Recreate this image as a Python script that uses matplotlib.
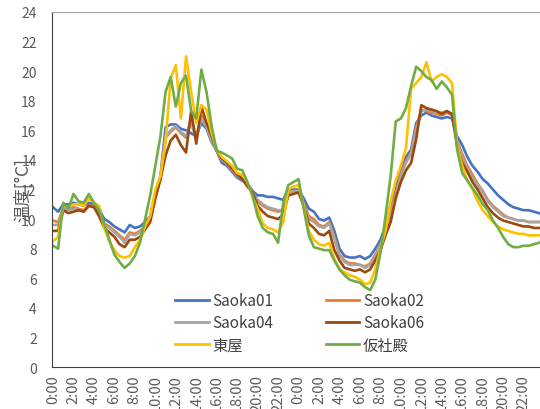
import numpy as np
import matplotlib
matplotlib.use('Agg')
import matplotlib.pyplot as plt

plt.rcParams['font.family'] = ['Noto Sans CJK JP', 'DejaVu Sans']

# half-hourly readings, 0:00 day 1 .. 23:30 day 2
hours = np.arange(96) * 0.5

saoka01 = [10.8, 10.5, 11.0, 11.0, 11.1, 11.0, 10.9, 11.1, 11.0, 10.7, 10.0, 9.8,
           9.5, 9.3, 9.1, 9.6, 9.4, 9.5, 9.8, 10.2, 11.8, 12.9, 16.2, 16.4,
           16.4, 16.1, 16.0, 15.8, 15.6, 16.5, 16.1, 15.2, 14.6, 13.8, 13.6, 13.2,
           12.8, 12.6, 12.4, 11.9, 11.6, 11.6, 11.5, 11.5, 11.4, 11.3, 12.0, 12.0,
           12.0, 11.4, 10.7, 10.5, 10.0, 9.9, 10.1, 9.2, 8.0, 7.5, 7.4, 7.4,
           7.5, 7.3, 7.5, 8.0, 8.6, 9.5, 11.0, 12.0, 13.4, 14.2, 14.7, 16.5,
           17.0, 17.2, 17.0, 16.9, 16.8, 16.9, 16.8, 15.6, 15.0, 14.2, 13.6, 13.2,
           12.7, 12.4, 12.0, 11.6, 11.3, 11.0, 10.8, 10.7, 10.6, 10.6, 10.5, 10.4]

saoka02 = [9.9, 9.8, 10.8, 10.7, 10.8, 10.7, 10.6, 10.9, 10.9, 10.5, 9.7, 9.5,
           9.2, 8.9, 8.6, 9.1, 9.0, 9.2, 9.5, 10.0, 11.5, 12.7, 15.5, 15.9,
           16.2, 15.8, 15.5, 16.8, 15.5, 17.0, 16.3, 15.4, 14.6, 14.0, 13.8, 13.4,
           13.0, 12.8, 12.4, 11.8, 11.2, 10.9, 10.7, 10.6, 10.5, 10.6, 11.8, 11.9,
           11.9, 11.1, 10.2, 10.0, 9.6, 9.5, 9.8, 8.8, 7.6, 7.2, 7.0, 7.0,
           6.9, 6.8, 7.0, 7.6, 8.3, 9.2, 10.4, 11.7, 13.0, 13.9, 14.5, 16.2,
           17.4, 17.3, 17.2, 17.1, 17.0, 17.2, 17.0, 15.3, 14.4, 13.6, 13.0, 12.4,
           11.9, 11.3, 10.9, 10.6, 10.3, 10.1, 10.0, 9.9, 9.9, 9.8, 9.8, 9.8]

saoka04 = [9.6, 9.6, 10.7, 10.6, 10.7, 10.6, 10.5, 10.9, 10.8, 10.4, 9.6, 9.4,
           9.1, 8.8, 8.4, 9.0, 8.9, 9.1, 9.4, 10.0, 11.5, 12.7, 15.6, 16.0,
           16.3, 15.9, 15.6, 16.5, 15.4, 16.8, 16.2, 15.3, 14.6, 14.0, 13.7, 13.3,
           12.9, 12.7, 12.3, 11.8, 11.3, 11.0, 10.8, 10.7, 10.6, 10.6, 11.8, 11.9,
           11.9, 11.0, 10.0, 9.8, 9.5, 9.4, 9.7, 8.7, 7.5, 7.1, 6.9, 6.9,
           6.9, 6.7, 6.9, 7.5, 8.2, 9.1, 10.3, 11.6, 12.9, 13.8, 14.4, 16.0,
           17.3, 17.4, 17.3, 17.2, 17.2, 17.3, 17.1, 15.2, 14.2, 13.4, 12.8, 12.3,
           11.8, 11.2, 10.8, 10.5, 10.2, 10.1, 10.0, 9.9, 9.9, 9.8, 9.8, 9.8]

saoka06 = [9.2, 9.2, 10.6, 10.4, 10.5, 10.6, 10.5, 10.9, 10.8, 10.2, 9.4, 9.1,
           8.8, 8.3, 8.1, 8.6, 8.6, 8.8, 9.3, 9.8, 11.4, 12.7, 14.3, 15.3,
           15.7, 15.0, 14.5, 17.3, 15.1, 17.6, 16.5, 15.6, 14.7, 14.1, 13.8, 13.4,
           13.0, 12.7, 12.2, 11.8, 10.9, 10.5, 10.2, 10.1, 10.0, 10.3, 11.6, 11.7,
           11.8, 10.9, 9.7, 9.4, 9.0, 8.9, 9.2, 7.9, 7.2, 6.7, 6.6, 6.5,
           6.6, 6.4, 6.6, 7.2, 7.9, 8.9, 9.8, 11.4, 12.5, 13.3, 13.8, 15.4,
           17.7, 17.5, 17.4, 17.3, 17.1, 17.3, 17.1, 14.9, 13.8, 13.2, 12.5, 12.0,
           11.4, 10.8, 10.4, 10.1, 9.9, 9.8, 9.7, 9.6, 9.5, 9.5, 9.4, 9.4]

azumaya = [8.5, 8.8, 10.9, 10.8, 11.0, 11.0, 10.9, 11.4, 11.1, 10.9, 9.4, 8.5,
           7.9, 7.5, 7.4, 7.5, 8.1, 8.6, 9.5, 10.2, 12.0, 12.9, 15.2, 19.5,
           20.4, 16.8, 21.0, 18.6, 16.5, 17.7, 17.4, 15.8, 14.7, 14.2, 13.9, 13.6,
           13.1, 13.0, 12.5, 11.5, 10.7, 9.7, 9.4, 9.3, 9.1, 9.8, 12.0, 12.2,
           12.3, 10.9, 9.2, 8.6, 8.3, 8.2, 8.4, 7.3, 6.6, 6.4, 6.2, 6.1,
           5.9, 5.6, 5.7, 6.6, 8.0, 9.2, 11.2, 12.6, 13.6, 14.8, 18.8, 19.2,
           19.6, 20.6, 19.3, 19.6, 19.8, 19.6, 19.2, 15.0, 13.6, 12.6, 12.0, 11.2,
           10.6, 10.2, 9.8, 9.5, 9.3, 9.2, 9.1, 9.0, 9.0, 8.9, 8.9, 8.9]

karishaden = [8.2, 8.0, 11.1, 10.7, 11.7, 11.2, 11.1, 11.7, 11.1, 10.6, 9.7, 8.6,
              7.6, 7.1, 6.7, 7.0, 7.5, 8.4, 10.0, 11.6, 13.6, 15.6, 18.6, 19.6,
              17.6, 19.2, 19.7, 17.3, 16.8, 20.1, 18.6, 16.3, 14.6, 14.5, 14.3, 14.1,
              13.4, 13.3, 12.5, 11.6, 10.2, 9.4, 9.1, 9.0, 8.4, 11.1, 12.3, 12.5,
              12.7, 10.7, 8.9, 8.1, 8.0, 7.9, 7.9, 7.2, 6.6, 6.2, 5.9, 5.8,
              5.7, 5.4, 5.2, 5.9, 7.7, 10.2, 12.9, 16.6, 16.8, 17.5, 19.0, 20.3,
              20.0, 19.6, 19.4, 18.8, 19.3, 18.9, 18.4, 14.7, 13.1, 12.6, 12.1, 11.6,
              11.0, 10.6, 9.9, 9.4, 8.8, 8.3, 8.1, 8.1, 8.2, 8.2, 8.3, 8.4]

names = ['Saoka01', 'Saoka02', 'Saoka04', 'Saoka06', '東屋', '仮社殿']
colors = ['#4472C4', '#ED7D31', '#A5A5A5', '#9E480E', '#FFC000', '#70AD47']
series = [saoka01, saoka02, saoka04, saoka06, azumaya, karishaden]

tick_hours = np.arange(0, 48, 2)
tick_labels = ['%d:00' % (h % 24) for h in tick_hours]

fig = plt.figure(figsize=(5.4, 4.1), dpi=100)
ax = fig.add_axes([0.0963, 0.1024, 0.9037, 0.866])

lines = []
for s, c, n in zip(series, colors, names):
    ln, = ax.plot(hours, s, color=c, lw=1.9, label=n)
    lines.append(ln)

ax.set_xlim(-0.1, 47.6)
ax.set_ylim(0, 24)
ax.set_yticks(np.arange(0, 25, 2))
ax.set_xticks(tick_hours)
ax.set_xticklabels(tick_labels, rotation=90)
ax.tick_params(axis='y', length=0, pad=11, labelsize=10, labelcolor='#595959')
ax.tick_params(axis='x', length=0, pad=5, labelsize=10.5, labelcolor='#595959')

ax.spines['right'].set_visible(False)
ax.spines['top'].set_color('#a0a0a0')
ax.spines['left'].set_color('#404040')
ax.spines['bottom'].set_color('#404040')

# label sits over the 12/14 tick labels, like the original
ax.set_ylabel('温度[°C]', fontsize=12.5, color='#595959')
ax.yaxis.set_label_coords(-0.041, 0.50)

# legend: two columns, filled row by row as in the original
order = [0, 2, 4, 1, 3, 5]
leg = ax.legend([lines[i] for i in order], [names[i] for i in order],
                ncol=2, frameon=False, loc='lower left',
                bbox_to_anchor=(0.24, 0.021), fontsize=11,
                handlelength=2.2, handletextpad=0.25, columnspacing=3.4,
                labelspacing=0.34, borderaxespad=0.0)
for t in leg.get_texts():
    t.set_color('#404040')
for l in leg.get_lines():
    l.set_linewidth(2.0)

fig.savefig('out.png', dpi=100)
